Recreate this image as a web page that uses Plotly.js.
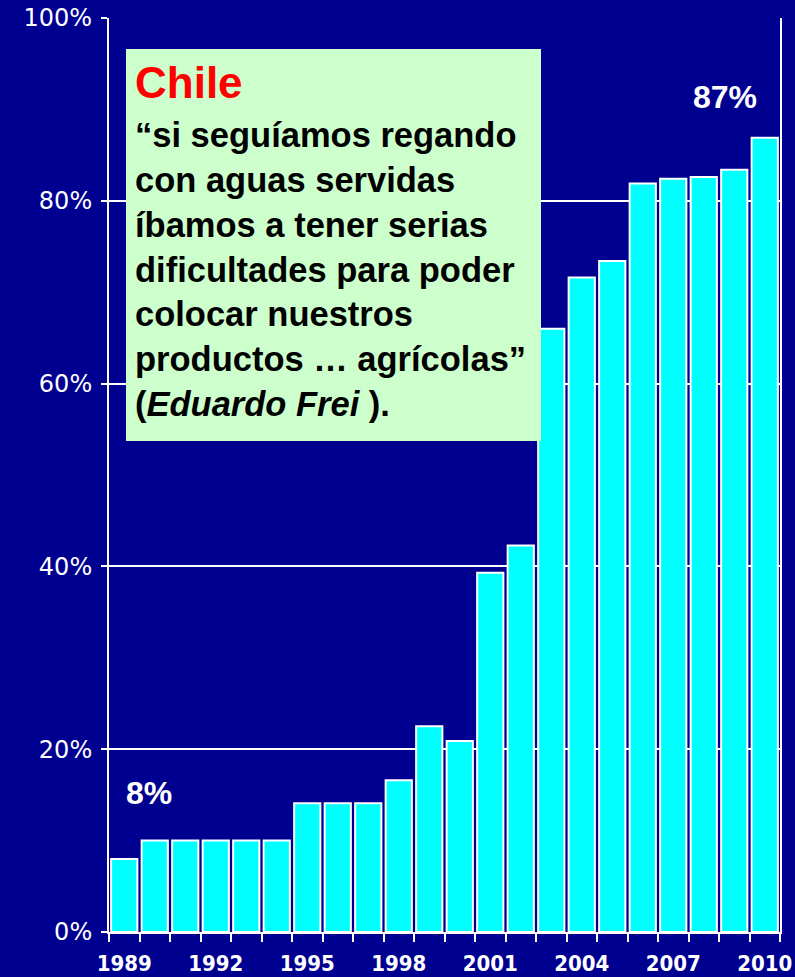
<!DOCTYPE html>
<html>
<head>
<meta charset="utf-8">
<script src="https://cdn.plot.ly/plotly-3.0.1.min.js"></script>
<style>
html,body{margin:0;padding:0;background:#000090;}
#chart{width:795px;height:977px;}
</style>
</head>
<body>
<div id="chart"></div>
<script>
// ---- data ----
var years = ["1989","1990","1991","1992","1993","1994","1995","1996","1997","1998","1999",
             "2000","2001","2002","2003","2004","2005","2006","2007","2008","2009","2010"];
var shares = [8.0, 10.0, 10.0, 10.0, 10.0, 10.0, 14.1, 14.1, 14.1, 16.6, 22.5,
              20.9, 39.3, 42.3, 66.0, 71.6, 73.4, 81.9, 82.4, 82.6, 83.4, 86.9];
var yearLabels = ["1989","","","1992","","","1995","","","1998","",
                  "","2001","","","2004","","","2007","","","2010"];
var firstLabel = "8%";
var lastLabel = "87%";
var boxTitle = "Chile";
var quoteLines = ["“si seguíamos regando","con aguas servidas","íbamos a tener serias",
                  "dificultades para poder","colocar nuestros","productos … agrícolas”",
                  "(<i>Eduardo Frei</i> )."];

// ---- layout helpers (pixel -> paper) ----
var W = 795, H = 977, L = 109, R = 15, T = 18, B = 45;
var pw = W - L - R, ph = H - T - B;
function px(x){ return (x - L) / pw; }
function py(y){ return (H - B - y) / ph; }

var trace = {
  type: "bar",
  x: years,
  y: shares,
  marker: {color: "#00FFFF", line: {color: "#FFFFFF", width: 2}},
  hoverinfo: "x+y"
};

var lastIdx = years.length - 1;

var layout = {
  width: W, height: H,
  margin: {l: L, r: R, t: T, b: B, pad: 0},
  paper_bgcolor: "#000090",
  plot_bgcolor: "#000090",
  showlegend: false,
  bargap: 0.14,
  font: {family: "DejaVu Sans, sans-serif", color: "#FFFFFF"},
  xaxis: {
    type: "category",
    categoryorder: "array",
    categoryarray: years,
    range: [-0.5, lastIdx + 0.5],
    tickmode: "array",
    tickvals: years,
    ticktext: yearLabels,
    tickson: "boundaries",
    ticks: "outside",
    ticklen: 8,
    tickwidth: 2,
    tickcolor: "#FFFFFF",
    ticklabelstandoff: 11,
    showline: true,
    linecolor: "#FFFFFF",
    linewidth: 2,
    showgrid: false,
    tickangle: 0,
    tickfont: {family: "DejaVu Sans Condensed, DejaVu Sans, sans-serif", size: 22, color: "#FFFFFF", weight: "bold"}
  },
  yaxis: {
    range: [0, 100],
    tickmode: "linear",
    tick0: 0,
    dtick: 20,
    ticksuffix: "%",
    ticks: "outside",
    ticklen: 6,
    tickwidth: 2,
    tickcolor: "#FFFFFF",
    ticklabelstandoff: 4,
    showline: true,
    mirror: true,
    linecolor: "#FFFFFF",
    linewidth: 2,
    showgrid: true,
    gridcolor: "#FFFFFF",
    gridwidth: 2,
    zeroline: false,
    tickfont: {family: "DejaVu Sans, sans-serif", size: 24, color: "#FFFFFF"}
  },
  shapes: [{
    type: "rect", xref: "paper", yref: "paper", layer: "above",
    x0: px(126), x1: px(541), y0: py(441), y1: py(49),
    fillcolor: "#CCFFCC", line: {width: 0}
  }],
  annotations: [
    {xref: "paper", yref: "paper", x: px(133), y: py(56), xanchor: "left", yanchor: "top",
     text: "<b>" + boxTitle + "</b>", showarrow: false, align: "left",
     font: {family: "Liberation Sans, Arial, sans-serif", size: 44, color: "#FF0000"}},
    {xref: "paper", yref: "paper", x: px(133), y: py(114), xanchor: "left", yanchor: "top",
     text: "<b>" + quoteLines.join("<br>") + "</b>", showarrow: false, align: "left",
     font: {family: "Liberation Sans, Arial, sans-serif", size: 34.5, color: "#000000"}},
    {xref: "x", yref: "y", x: 0, y: shares[0], xshift: 25,
     text: "<b>" + firstLabel + "</b>", showarrow: false, xanchor: "center", yanchor: "middle",
     font: {family: "Liberation Sans, Arial, sans-serif", size: 32, color: "#FFFFFF"}},
    {xref: "x", yref: "y", x: lastIdx, y: shares[lastIdx], xshift: -40,
     text: "<b>" + lastLabel + "</b>", showarrow: false, xanchor: "center", yanchor: "middle",
     font: {family: "Liberation Sans, Arial, sans-serif", size: 32, color: "#FFFFFF"}}
  ]
};
// place value labels above the bars by pixel offset from the bar top
layout.annotations[2].yshift = 859 - 793;
layout.annotations[3].yshift = 138 - 97;

Plotly.newPlot("chart", [trace], layout, {displayModeBar: false, staticPlot: true});
</script>
</body>
</html>
